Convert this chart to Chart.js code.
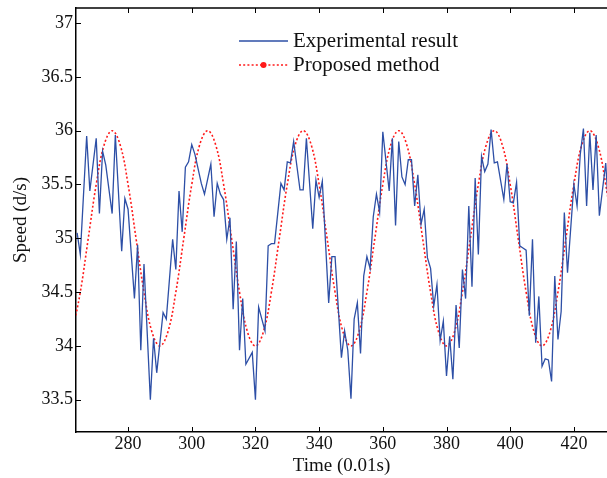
<!DOCTYPE html>
<html>
<head>
<meta charset="utf-8">
<script src="https://cdn.jsdelivr.net/npm/chart.js@4.4.1/dist/chart.umd.min.js"></script>
<style>
html,body{margin:0;padding:0;background:#fff;}
#wrap{width:607px;height:478px;position:relative;}
</style>
</head>
<body>
<div id="wrap"><canvas id="c" width="607" height="478"></canvas></div>
<script>
// ---- data ----
const blueT = [264,265,267,268,270,271,272,273,275,276,278,279,280,282,283,284,285,287,288,289,291,292,294,295,296,297,298,299,300,301,303,304,306,307,308,309,310,311,312,313,314,315,316,317,319,320,321,323,324,325,326,328,329,330,331,332,334,335,336,338,339,340,341,343,344,345,347,348,349,350,351,352,353,354,355,356,357,358,359,360,362,363,364,365,366,367,368,369,370,371,372,373,374,375,376,377,378,379,380,381,382,383,384,385,386,387,388,389,390,391,392,393,394,395,396,398,399,400,401,402,403,404,405,406,407,408,409,410,411,412,413,414,415,416,417,418,420,421,422,423,424,425,426,427,428,430,431];
const blueV = [35.05,34.85,35.95,35.44,35.93,35.23,35.81,35.68,35.23,35.96,34.88,35.37,35.27,34.44,34.94,33.96,34.76,33.50,34.07,33.75,34.31,34.25,34.99,34.71,35.44,35.06,35.66,35.71,35.87,35.78,35.51,35.41,35.69,35.20,35.51,35.41,35.36,34.99,35.19,34.34,34.97,33.96,34.44,33.83,33.94,33.50,34.36,34.14,34.93,34.95,34.95,35.51,35.45,35.71,35.70,35.90,35.45,35.45,35.93,35.09,35.54,35.38,35.53,34.40,34.83,34.83,33.89,34.14,33.96,33.51,34.25,34.40,33.93,34.65,34.83,34.72,35.20,35.41,35.24,35.99,35.44,35.93,35.12,35.90,35.57,35.50,35.73,35.73,35.30,35.59,35.13,35.27,34.82,34.72,34.37,34.57,34.05,34.23,33.72,34.09,33.69,34.38,33.98,34.71,34.44,35.30,34.55,35.56,34.85,35.76,35.62,35.69,36.01,35.70,35.71,35.36,35.69,35.34,35.33,35.52,34.93,34.91,34.89,34.28,34.99,34.03,34.46,33.81,33.88,33.87,33.67,34.65,34.06,34.32,35.24,34.68,35.50,35.30,35.78,36.02,35.30,35.98,35.45,35.96,35.21,35.70,35.20];

const redT = [262.5,265,267.5,270,272.5,275,277.5,280,282.5,285,287.5,290,
  292.5,295,297.5,300,302.5,305,307.5,310,312.5,315,317.5,320,
  322.5,325,327.5,330,332.5,335,337.5,340,342.5,345,347.5,350,
  352.5,355,357.5,360,362.5,365,367.5,370,372.5,375,377.5,380,
  382.5,385,387.5,390,392.5,395,397.5,400,402.5,405,407.5,410,
  412.5,415,417.5,420,422.5,425,427.5,430,432.5];
const redV = [34.13,34.5,35,35.5,35.87,36,35.87,35.5,35,34.5,34.13,34,
  34.13,34.5,35,35.5,35.87,36,35.87,35.5,35,34.5,34.13,34,
  34.13,34.5,35,35.5,35.87,36,35.87,35.5,35,34.5,34.13,34,
  34.13,34.5,35,35.5,35.87,36,35.87,35.5,35,34.5,34.13,34,
  34.13,34.5,35,35.5,35.87,36,35.87,35.5,35,34.5,34.13,34,
  34.13,34.5,35,35.5,35.87,36,35.87,35.5,35];

const xTicks = [280,300,320,340,360,380,400,420];
const yTicks = [33.5,34,34.5,35,35.5,36,36.5,37];
const seriesNames = ['Experimental result','Proposed method'];
const xTitle = 'Time (0.01s)';
const yTitle = 'Speed (d/s)';

const FONT = "'Liberation Serif', 'DejaVu Serif', serif";
const BLUE = '#2d4fa6';
const RED = '#ff1a1a';

const framePlugin = {
  id: 'frame',
  afterDraw(chart) {
    const {ctx, chartArea: a, scales: {x, y}} = chart;
    ctx.save();
    ctx.strokeStyle = '#000';
    ctx.lineWidth = 1.5;
    ctx.beginPath();
    ctx.moveTo(a.left, a.top); ctx.lineTo(a.right + 2, a.top);
    ctx.stroke();
    ctx.lineWidth = 1;
    ctx.beginPath();
    xTicks.forEach(v => {
      const px = Math.round(x.getPixelForValue(v)) + 0.5;
      ctx.moveTo(px, a.bottom); ctx.lineTo(px, a.bottom - 5);
      ctx.moveTo(px, a.top); ctx.lineTo(px, a.top + 5);
    });
    yTicks.forEach(v => {
      const py = Math.round(y.getPixelForValue(v)) + 0.5;
      ctx.moveTo(a.left, py); ctx.lineTo(a.left + 5, py);
    });
    ctx.stroke();

    // legend
    const ds = chart.data.datasets;
    const lx0 = 239, lx1 = 288, tx = 293, ly = [41, 65];
    ctx.font = "21px " + FONT;
    ctx.textBaseline = 'middle';
    ctx.fillStyle = '#111';
    ctx.strokeStyle = ds[0].borderColor; ctx.lineWidth = ds[0].borderWidth; ctx.setLineDash([]);
    ctx.beginPath(); ctx.moveTo(lx0, ly[0]); ctx.lineTo(lx1, ly[0]); ctx.stroke();
    ctx.fillText(ds[0].label, tx, ly[0]);
    ctx.strokeStyle = ds[1].borderColor; ctx.lineWidth = ds[1].borderWidth; ctx.setLineDash(ds[1].borderDash);
    ctx.beginPath(); ctx.moveTo(lx0, ly[1]); ctx.lineTo(lx1, ly[1]); ctx.stroke();
    ctx.setLineDash([]);
    ctx.fillStyle = ds[1].borderColor;
    ctx.beginPath(); ctx.arc((lx0 + lx1) / 2, ly[1], 3, 0, Math.PI * 2); ctx.fill();
    ctx.fillStyle = '#111';
    ctx.fillText(ds[1].label, tx, ly[1]);
    ctx.restore();
  }
};

new Chart(document.getElementById('c'), {
  type: 'line',
  data: {
    datasets: [
      {
        label: seriesNames[0],
        data: blueT.map((t, i) => ({x: t, y: blueV[i]})),
        borderColor: BLUE, borderWidth: 1.3, pointRadius: 0, tension: 0, fill: false
      },
      {
        label: seriesNames[1],
        data: redT.map((t, i) => ({x: t, y: redV[i]})),
        borderColor: RED, borderWidth: 1.6, borderDash: [2, 2.2], pointRadius: 0,
        tension: 0.4, fill: false
      }
    ]
  },
  options: {
    responsive: false,
    animation: false,
    devicePixelRatio: 1,
    layout: {padding: {left: 0, right: 0, top: 8, bottom: 0}},
    plugins: {legend: {display: false}, tooltip: {enabled: false}},
    scales: {
      x: {
        type: 'linear', min: 263.65, max: 430.4,
        afterBuildTicks: s => { s.ticks = xTicks.map(v => ({value: v})); },
        afterFit: s => { s.height = 46; s.paddingLeft = 0; s.paddingRight = 0; },
        grid: {display: false, drawTicks: false},
        border: {display: true, color: '#000', width: 1.5},
        ticks: {font: {family: FONT, size: 18}, color: '#111', padding: 1, maxRotation: 0},
        title: {display: true, text: xTitle, font: {family: FONT, size: 19}, color: '#111', padding: {top: 0, bottom: 1}}
      },
      y: {
        type: 'linear', min: 33.2, max: 37.14,
        afterBuildTicks: s => { s.ticks = yTicks.map(v => ({value: v})); },
        afterFit: s => { s.width = 76; s.paddingTop = 0; s.paddingBottom = 0; },
        grid: {display: false, drawTicks: false},
        border: {display: true, color: '#000', width: 1.5},
        ticks: {font: {family: FONT, size: 18}, color: '#111', padding: 3, callback: v => String(v)},
        title: {display: true, text: yTitle, font: {family: FONT, size: 19}, color: '#111', padding: {top: 10, bottom: 0}}
      }
    }
  },
  plugins: [framePlugin]
});
</script>
</body>
</html>
